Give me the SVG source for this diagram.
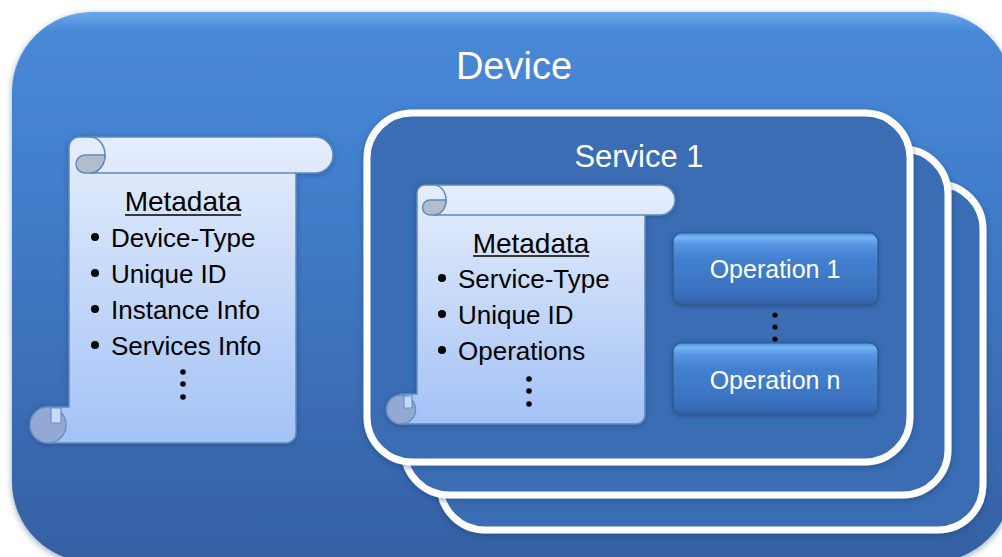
<svg xmlns="http://www.w3.org/2000/svg" width="1002" height="557" viewBox="0 0 1002 557">
<defs>
<linearGradient id="devGrad" x1="0" y1="0" x2="0" y2="1">
<stop offset="0" stop-color="#6AA8EE"/>
<stop offset="0.035" stop-color="#4888D7"/>
<stop offset="0.2" stop-color="#4483D2"/>
<stop offset="1" stop-color="#3560A3"/>
</linearGradient>
<linearGradient id="scrollGrad" x1="0" y1="0" x2="0" y2="1">
<stop offset="0" stop-color="#E6EEFC"/>
<stop offset="1" stop-color="#A3C2F6"/>
</linearGradient>
<linearGradient id="opGrad" x1="0" y1="0" x2="0" y2="1">
<stop offset="0" stop-color="#4F8FDE"/>
<stop offset="0.06" stop-color="#76B6F7"/>
<stop offset="0.16" stop-color="#5595E2"/>
<stop offset="0.35" stop-color="#4381D0"/>
<stop offset="0.85" stop-color="#3A70BD"/>
<stop offset="1" stop-color="#2F5EA3"/>
</linearGradient>
<filter id="shadow" x="-10%" y="-10%" width="120%" height="120%">
<feDropShadow dx="0" dy="2" stdDeviation="3" flood-color="#1B3966" flood-opacity="0.45"/>
</filter>
<filter id="softShadow" x="-10%" y="-10%" width="120%" height="120%">
<feDropShadow dx="0" dy="1" stdDeviation="2.5" flood-color="#1B3966" flood-opacity="0.5"/>
</filter>
</defs>
<style>
.panel{fill:#3A6DB4;stroke:#FFFFFF;stroke-width:7}
.scroll{fill:url(#scrollGrad);stroke:#5E89C3;stroke-width:1.5}
.line{fill:none;stroke:#5E89C3;stroke-width:1.5}
.gray{fill:#B3BCCB;stroke:#5E89C3;stroke-width:1.5}
.curl{fill:#93A9D3;stroke:#6A8FC6;stroke-width:1.5}
.notch{fill:#C9DAF8;stroke:#6A8FC6;stroke-width:1.2}
.op{fill:url(#opGrad);stroke:#2E5894;stroke-width:1.2}
.w{font-family:"Liberation Sans",Arial,sans-serif;fill:#FFFFFF}
.b{font-family:"Liberation Sans",Arial,sans-serif;fill:#000000;font-size:26px}
.h{font-family:"Liberation Sans",Arial,sans-serif;fill:#000000;font-size:28px}
.dot{fill:#000000}
</style>

<g id="device">
<rect x="12" y="12" width="1000" height="550" rx="80" fill="url(#devGrad)" filter="url(#shadow)"/>
<text class="w" x="514" y="79" font-size="38" text-anchor="middle">Device</text>
</g>

<g id="service3">
<rect class="panel" x="440" y="184" width="543" height="346" rx="45" filter="url(#shadow)"/>
</g>
<g id="service2">
<rect class="panel" x="404" y="149" width="544" height="346" rx="45" filter="url(#shadow)"/>
</g>
<g id="service1">
<rect class="panel" x="367" y="113" width="543" height="349" rx="45" filter="url(#shadow)"/>
<text class="w" x="639" y="167" font-size="31" text-anchor="middle">Service 1</text>
</g>

<g id="device-metadata" filter="url(#softShadow)">
<path class="scroll" d="M79 137 H315 A18 18 0 0 1 315 173 H296 V433 A10 10 0 0 1 286 443 H48 V407 H69 V147 A10 10 0 0 1 79 137 Z"/>
<path class="line" d="M90 173 H296"/>
<path class="line" d="M90 137 A15 18 0 0 1 90 173"/>
<path class="gray" d="M105 155 A15 18 0 0 1 90 173 L85 173 A9 9 0 0 1 85 155 Z"/>
<circle class="curl" cx="48" cy="425" r="18"/>
<path class="notch" d="M51 408 H61 V423 H51 Z"/>
</g>
<g id="device-metadata-text">
<text class="h" x="183" y="211" text-anchor="middle">Metadata</text>
<line x1="125" y1="215" x2="241" y2="215" stroke="#000" stroke-width="1.6"/>
<circle class="dot" cx="95" cy="237" r="4"/>
<text class="b" x="111" y="247">Device-Type</text>
<circle class="dot" cx="95" cy="273" r="4"/>
<text class="b" x="111" y="283">Unique ID</text>
<circle class="dot" cx="95" cy="309" r="4"/>
<text class="b" x="111" y="319">Instance Info</text>
<circle class="dot" cx="95" cy="345" r="4"/>
<text class="b" x="111" y="355">Services Info</text>
<circle class="dot" cx="183" cy="372" r="2.8"/>
<circle class="dot" cx="183" cy="384" r="2.8"/>
<circle class="dot" cx="183" cy="397" r="2.8"/>
</g>

<g id="service-metadata" filter="url(#softShadow)">
<path class="scroll" d="M425 185 H660 A15 15 0 0 1 660 215 H645 V415 A9 9 0 0 1 636 424 H401 V394 H417 V193 A8 8 0 0 1 425 185 Z"/>
<path class="line" d="M434 215 H645"/>
<path class="line" d="M434 185 A12 15 0 0 1 434 215"/>
<path class="gray" d="M446 200 A12 15 0 0 1 434 215 L430 215 A7.5 7.5 0 0 1 430 200 Z"/>
<circle class="curl" cx="401" cy="409.5" r="14.5"/>
<path class="notch" d="M404 396 H412 V408 H404 Z"/>
</g>
<g id="service-metadata-text">
<text class="h" x="531" y="253" text-anchor="middle">Metadata</text>
<line x1="473" y1="256" x2="589" y2="256" stroke="#000" stroke-width="1.6"/>
<circle class="dot" cx="442" cy="278" r="4"/>
<text class="b" x="458" y="288">Service-Type</text>
<circle class="dot" cx="442" cy="314" r="4"/>
<text class="b" x="458" y="324">Unique ID</text>
<circle class="dot" cx="442" cy="350" r="4"/>
<text class="b" x="458" y="360">Operations</text>
<circle class="dot" cx="529" cy="379" r="2.8"/>
<circle class="dot" cx="529" cy="391" r="2.8"/>
<circle class="dot" cx="529" cy="404" r="2.8"/>
</g>

<g id="operation1">
<rect class="op" x="673" y="233" width="205" height="72" rx="9" filter="url(#softShadow)"/>
<text class="w" x="775" y="278" font-size="25" text-anchor="middle">Operation 1</text>
</g>
<g id="operation-dots">
<circle class="dot" cx="775" cy="315" r="2.6"/>
<circle class="dot" cx="775" cy="327" r="2.6"/>
<circle class="dot" cx="775" cy="339" r="2.6"/>
</g>
<g id="operationN">
<rect class="op" x="673" y="343" width="205" height="72" rx="9" filter="url(#softShadow)"/>
<text class="w" x="775" y="389" font-size="25" text-anchor="middle">Operation n</text>
</g>
<g id="connectors"/>
</svg>
